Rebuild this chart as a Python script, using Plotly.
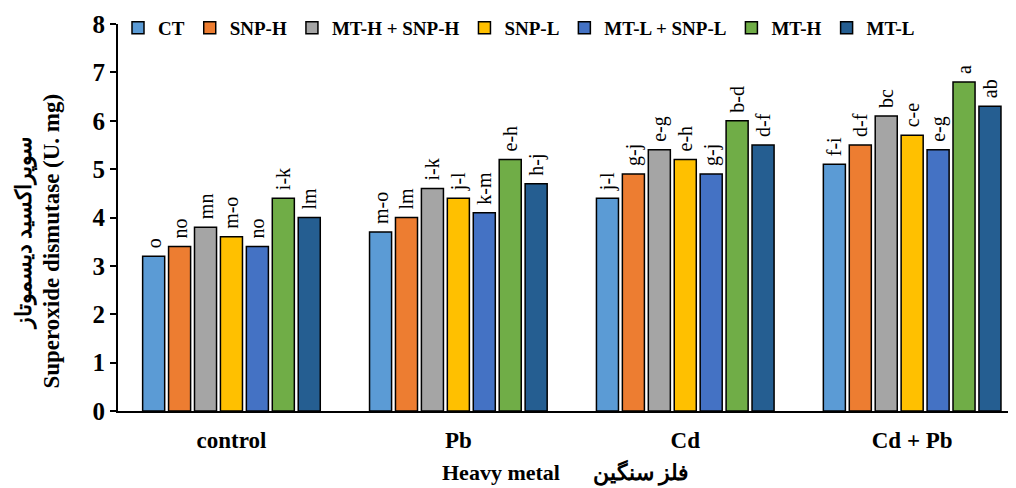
import plotly.graph_objects as go

categories = ["control", "Pb", "Cd", "Cd + Pb"]
series_names = ["CT", "SNP-H", "MT-H + SNP-H", "SNP-L", "MT-L + SNP-L", "MT-H", "MT-L"]
colors = ["#5B9BD5", "#ED7D31", "#A5A5A5", "#FFC000", "#4472C4", "#70AD47", "#255E91"]
values = {
    "CT": [3.2, 3.7, 4.4, 5.1],
    "SNP-H": [3.4, 4.0, 4.9, 5.5],
    "MT-H + SNP-H": [3.8, 4.6, 5.4, 6.1],
    "SNP-L": [3.6, 4.4, 5.2, 5.7],
    "MT-L + SNP-L": [3.4, 4.1, 4.9, 5.4],
    "MT-H": [4.4, 5.2, 6.0, 6.8],
    "MT-L": [4.0, 4.7, 5.5, 6.3],
}
letters = {
    "CT": ["o", "m-o", "j-l", "f-i"],
    "SNP-H": ["no", "lm", "g-j", "d-f"],
    "MT-H + SNP-H": ["mn", "i-k", "e-g", "bc"],
    "SNP-L": ["m-o", "j-l", "e-h", "c-e"],
    "MT-L + SNP-L": ["no", "k-m", "g-j", "e-g"],
    "MT-H": ["i-k", "e-h", "b-d", "a"],
    "MT-L": ["lm", "h-j", "d-f", "ab"],
}

serif = "Liberation Serif"
fig = go.Figure()
for name, col in zip(series_names, colors):
    fig.add_trace(go.Bar(
        name=name, x=categories, y=values[name], marker_color=col,
        marker_line=dict(color="black", width=1.5),
        text=["\u00a0" + t for t in letters[name]], textposition="outside", textangle=-90,
        constraintext="none",
        textfont=dict(family=serif, size=20, color="black"),
        cliponaxis=False,
    ))

# page body has an 8px margin, so the figure is drawn 8px smaller and shifted
fig.update_layout(
    width=1008, height=480,
    margin=dict(l=110, r=4, t=16, b=77, autoexpand=False),
    paper_bgcolor="white", plot_bgcolor="white",
    barmode="group", bargap=0.2, bargroupgap=0.15,
    font=dict(family=serif, color="black"),
    showlegend=True,
    legend=dict(orientation="h", x=0.0, y=0.99, xanchor="left", yanchor="middle",
                font=dict(family=serif, size=19, color="black", weight="bold"),
                bgcolor="rgba(0,0,0,0)", itemwidth=30, tracegroupgap=0),
    xaxis=dict(range=[-0.5, 3.44], showline=True, linecolor="black", linewidth=2,
               ticks="", tickfont=dict(family=serif, size=23, weight="bold"),
               ticklabelstandoff=7,
               showgrid=False, automargin=False),
    yaxis=dict(range=[0, 8], dtick=1, showline=True, linecolor="black", linewidth=2,
               ticks="outside", ticklen=6, tickwidth=2, tickcolor="black",
               tickfont=dict(family=serif, size=25, weight="bold"),
               showgrid=False, zeroline=False, automargin=False),
)
fig.add_annotation(text="<b>Superoxide dismutase (U. mg)</b>", xref="paper", yref="paper",
                   x=-0.074, y=0.44, textangle=-90, showarrow=False, xanchor="center",
                   yanchor="middle", font=dict(family=serif, size=23))
fig.add_annotation(text="<b>سوپراکسید دیسموتاز</b>", xref="paper", yref="paper",
                   x=-0.104, y=0.46, textangle=-90, showarrow=False, xanchor="center",
                   yanchor="middle", font=dict(family=serif, size=22))
fig.add_annotation(text="<b>Heavy metal</b>      <b>فلز سنگین</b>", xref="paper", yref="paper",
                   x=0.5, y=-0.158, showarrow=False, xanchor="center", yanchor="middle",
                   font=dict(family=serif, size=22))
fig.write_html("out.html")
